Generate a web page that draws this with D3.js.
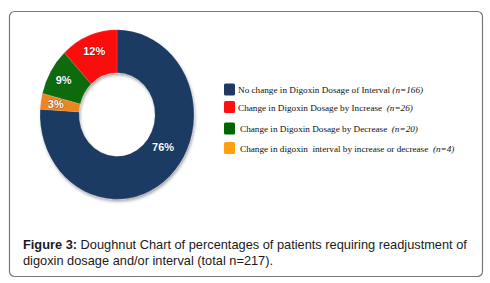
<!DOCTYPE html>
<html>
<head>
<meta charset="utf-8">
<script src="https://cdn.jsdelivr.net/npm/d3@7"></script>
<style>
  body { margin: 0; background: #fff; }
  svg { display: block; }
</style>
</head>
<body>
<div id="chart"></div>
<script>
// chart data
const categories = [
  'No change in Digoxin Dosage of Interval',
  'Change in Digoxin Dosage by Increase',
  'Change in Digoxin Dosage by Decrease',
  'Change in digoxin  interval by increase or decrease'
];
const counts = ['(n=166)', '(n=26)', '(n=20)', '(n=4)'];
const percents = [76, 12, 9, 3];
const sliceColors = ['#1f3a64', '#fb0f0f', '#0b6a0c', '#ef8420'];
const legendColors = ['#1f3864', '#ff1010', '#006400', '#ffa010'];
const captionLines = [
  ['Figure 3:', ' Doughnut Chart of percentages of patients requiring readjustment of'],
  ['', 'digoxin dosage and/or interval (total n=217).']
];
// clockwise from 12 o'clock: blue, orange, green, red
const drawOrder = [0, 3, 2, 1];

const width = 490, height = 283;

const svg = d3.select('#chart').append('svg')
  .attr('width', width)
  .attr('height', height);

// outer frame
svg.append('rect')
  .attr('x', 9.5).attr('y', 11.5)
  .attr('width', 473).attr('height', 265)
  .attr('rx', 5)
  .attr('fill', '#fff')
  .attr('stroke', '#777')
  .attr('stroke-width', 1.2);

const defs = svg.append('defs');
const shadow = defs.append('filter').attr('id', 'shadow')
  .attr('x', '-20%').attr('y', '-20%').attr('width', '140%').attr('height', '140%');
shadow.append('feDropShadow')
  .attr('dx', 1).attr('dy', 2).attr('stdDeviation', 1.5)
  .attr('flood-color', '#000').attr('flood-opacity', 0.35);

// doughnut, slightly taller than wide like the original
const donut = svg.append('g')
  .attr('transform', 'translate(117,114.5) scale(1,1.1)');

const pie = d3.pie()
  .value((i) => percents[i])
  .sort((a, b) => drawOrder.indexOf(a) - drawOrder.indexOf(b));
const arcs = pie(d3.range(percents.length));
const arc = d3.arc().innerRadius(38).outerRadius(77);

donut.append('g')
  .attr('filter', 'url(#shadow)')
  .selectAll('path')
  .data(arcs)
  .join('path')
  .attr('d', arc)
  .attr('fill', (d) => sliceColors[d.data])
  .attr('stroke', 'rgba(255,255,255,0.25)')
  .attr('stroke-width', 0.5);

// labels in slices
donut.selectAll('.lbl')
  .data(arcs)
  .join('text')
  .attr('class', 'lbl')
  .attr('transform', (d) => {
    const big = d.data === 0;
    const f = big ? 0.45 : 0.5;
    const a = d.startAngle + (d.endAngle - d.startAngle) * f;
    const r = big ? 55 : 62;
    return `translate(${r * Math.sin(a)},${-r * Math.cos(a)}) scale(1,${1 / 1.1})`;
  })
  .attr('text-anchor', 'middle')
  .attr('dy', '0.35em')
  .attr('fill', '#fff')
  .style('font-family', 'Arial, "Liberation Sans", sans-serif')
  .style('font-weight', 'bold')
  .style('font-size', '11px')
  .style('paint-order', 'stroke')
  .style('stroke', 'rgba(0,0,0,0.35)')
  .style('stroke-width', '1px')
  .text((d) => `${percents[d.data]}%`);

// legend
const legendY = d3.scalePoint().domain(d3.range(categories.length)).range([89.5, 148]);
const legend = svg.append('g');
const rows = legend.selectAll('g')
  .data(categories)
  .join('g')
  .attr('transform', (d, i) => `translate(224,${legendY(i) + (i === 1 ? -2 : 0)})`);

rows.append('rect')
  .attr('x', 0).attr('y', -6)
  .attr('width', 11).attr('height', 12)
  .attr('rx', 1.5)
  .attr('fill', (d, i) => legendColors[i]);

const ltext = rows.append('text')
  .attr('x', (d, i) => (i < 2 ? 14 : 16))
  .attr('y', 3.5)
  .style('font-family', '"Liberation Serif", "Times New Roman", serif')
  .style('font-size', '9.2px')
  .attr('fill', '#111');
ltext.append('tspan').attr('xml:space', 'preserve').text((d, i) => d + (i === 0 ? ' ' : '  '));
ltext.append('tspan').style('font-style', 'italic').text((d, i) => counts[i]);

// caption
const caption = svg.append('g')
  .style('font-family', 'Arial, "Liberation Sans", sans-serif')
  .style('font-size', '12.8px')
  .attr('fill', '#1a1a1a');

captionLines.forEach((line, i) => {
  const t = caption.append('text')
    .attr('x', 23)
    .attr('y', 249 + i * 16);
  if (line[0]) t.append('tspan').style('font-weight', 'bold').text(line[0]);
  t.append('tspan').attr('xml:space', 'preserve').text(line[1]);
});
</script>
</body>
</html>
